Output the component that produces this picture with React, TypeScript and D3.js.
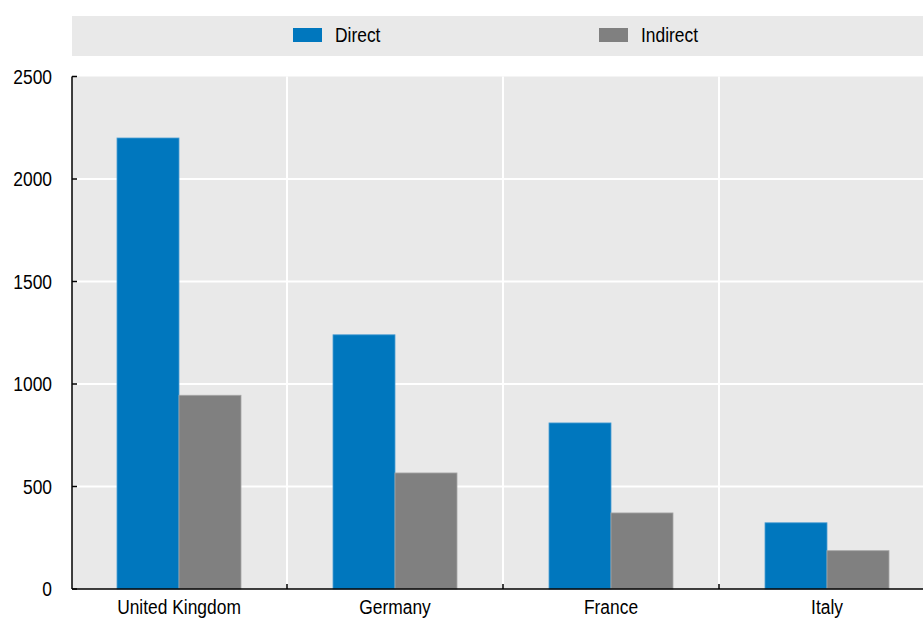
import React from "react";
import * as d3 from "d3";

const categories = ["United Kingdom", "Germany", "France", "Italy"];
const seriesNames = ["Direct", "Indirect"];
const directValues = [2200, 1240, 810, 323];
const indirectValues = [945, 566, 371, 187];
const yTicks = [0, 500, 1000, 1500, 2000, 2500];
const colors = ["#0077BE", "#808080"];
const strokes = ["#4C9ED3", "#A6A6A6"];

const W = 923;
const H = 619;
const FONT = "'Liberation Sans', Arial, sans-serif";
const SX = 0.87;

function T({ x, y, anchor, children }: { x: number; y: number; anchor?: string; children: React.ReactNode }) {
  return (
    <text transform={`translate(${x},${y}) scale(${SX},1)`} textAnchor={anchor || "start"} fontSize={20} fill="#000">
      {children}
    </text>
  );
}

export default function App() {
  const plotLeft = 72;
  const plotRight = 923;
  const x0 = d3.scaleBand<string>().domain(categories).range([71, 935]).paddingInner(0).paddingOuter(0);
  const groupW = 124;
  const x1 = d3.scaleBand<string>().domain(seriesNames).range([0, groupW]);
  const y = d3.scaleLinear().domain([0, 2500]).range([589, 76.5]);
  const series = [directValues, indirectValues];

  return (
    <svg width={W} height={H} style={{ position: "absolute", left: 0, top: 0, display: "block" }} fontFamily={FONT}>
      {/* legend */}
      <rect x={72} y={16} width={851} height={40} fill="#E9E9E9" />
      {seriesNames.map((s, i) => {
        const lx = i === 0 ? 293 : 599;
        return (
          <g key={s}>
            <rect x={lx} y={28} width={29} height={14} fill={colors[i]} />
            <T x={lx + 42} y={42}>{s}</T>
          </g>
        );
      })}
      {/* plot background */}
      <rect x={plotLeft} y={y(2500)} width={plotRight - plotLeft} height={y(0) - y(2500)} fill="#E9E9E9" />
      {/* gridlines */}
      {yTicks.filter(t => t > 0 && t < 2500).map(t => (
        <line key={t} x1={plotLeft} x2={plotRight} y1={y(t)} y2={y(t)} stroke="#fff" strokeWidth={2} />
      ))}
      {categories.slice(1).map(c => (
        <line key={c} x1={x0(c)!} x2={x0(c)!} y1={y(2500)} y2={y(0)} stroke="#fff" strokeWidth={2} />
      ))}
      {/* bars */}
      {categories.map((c, ci) => {
        const gx = x0(c)! + (x0.bandwidth() - groupW) / 2;
        return series.map((vals, si) => (
          <rect key={c + si} x={gx + x1(seriesNames[si])!} y={y(vals[ci])} width={x1.bandwidth()} height={y(0) - y(vals[ci])}
            fill={colors[si]} stroke={strokes[si]} strokeWidth={0.8} />
        ));
      })}
      {/* axes */}
      <line x1={plotLeft} x2={plotLeft} y1={y(2500)} y2={y(0)} stroke="#000" strokeWidth={1.5} />
      <line x1={plotLeft} x2={plotRight} y1={y(0)} y2={y(0)} stroke="#000" strokeWidth={1.5} />
      {yTicks.map(t => (
        <g key={t}>
          <line x1={plotLeft} x2={plotLeft + 5} y1={y(t)} y2={y(t)} stroke="#000" strokeWidth={1.5} />
          <T x={52} y={y(t) + 7} anchor="end">{t}</T>
        </g>
      ))}
      {categories.slice(1).map(c => (
        <line key={c} x1={x0(c)!} x2={x0(c)!} y1={y(0)} y2={y(0) - 5} stroke="#000" strokeWidth={1.5} />
      ))}
      {categories.map(c => (
        <T key={c} x={x0(c)! + x0.bandwidth() / 2} y={614} anchor="middle">{c}</T>
      ))}
    </svg>
  );
}
